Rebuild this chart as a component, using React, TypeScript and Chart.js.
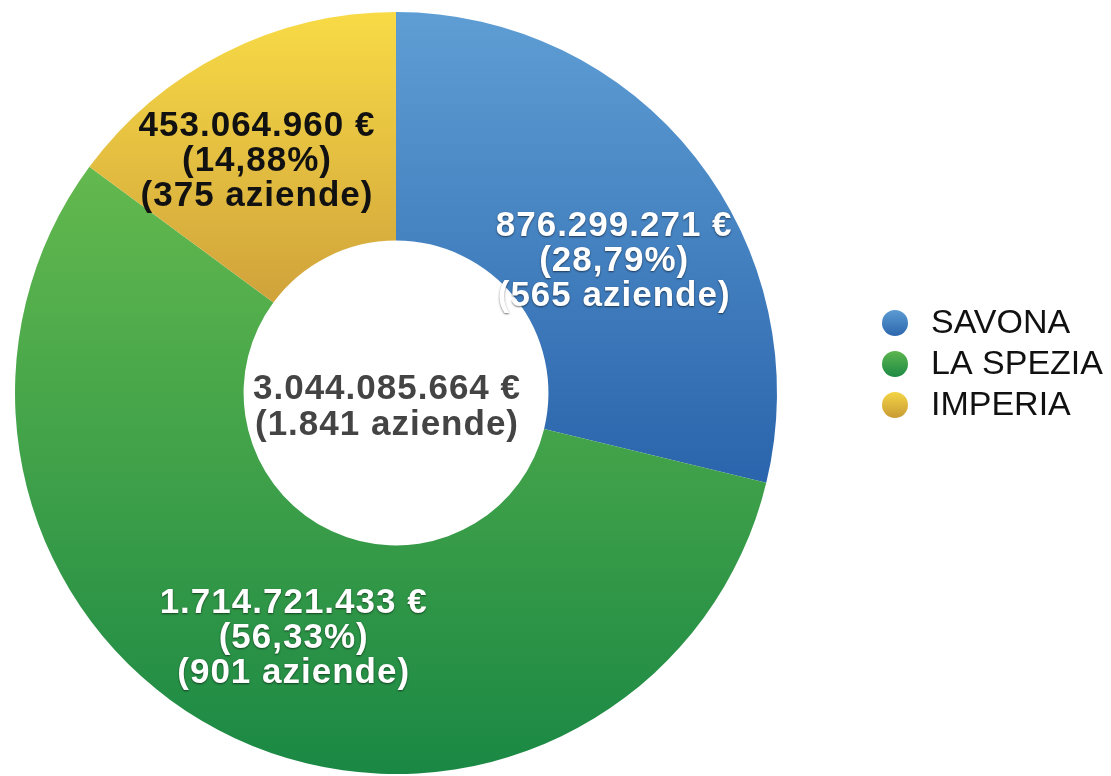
import React, { useEffect, useRef } from "react";
import { Chart, registerables } from "chart.js";

Chart.register(...registerables);

const provinces: string[] = ["SAVONA", "LA SPEZIA", "IMPERIA"];
const amounts: number[] = [876299271, 1714721433, 453064960];
const companies: number[] = [565, 901, 375];

// styling (not data)
const gradientStops: [number, string][][] = [
  [[0, "#5e9ed4"], [0.62, "#2a64ac"], [1, "#1f559f"]],
  [[0, "#72c250"], [0.2, "#64b94e"], [1, "#1a8844"]],
  [[0, "#f8db46"], [0.37, "#d1a43b"], [1, "#c0902f"]],
];
const legendDotStops: [string, string][] = [
  ["#5b9bd3", "#2d67ad"],
  ["#5cb54e", "#1d8a45"],
  ["#f3d445", "#c99b35"],
];
const labelColors: string[] = ["#ffffff", "#ffffff", "#111111"];
const labelShadow: boolean[] = [true, true, false];
const labelAngleShift: number[] = [7, -2.4, -4.2]; // degrees
const labelRadius: number[] = [255, 266, 270];

const FONT = '"Liberation Sans", Arial, Helvetica, sans-serif';

function fmtInt(n: number): string {
  const s = Math.round(n).toString();
  let out = "";
  for (let i = 0; i < s.length; i++) {
    if (i > 0 && (s.length - i) % 3 === 0) out += ".";
    out += s[i];
  }
  return out;
}

function fmtPct(p: number): string {
  return p.toFixed(2).replace(".", ",") + "%";
}

const labelsPlugin = {
  id: "sliceLabels",
  afterDatasetsDraw(chart: any) {
    const ctx: any = chart.ctx;
    const meta = chart.getDatasetMeta(0);
    const total = amounts.reduce((a, b) => a + b, 0);
    const totalCompanies = companies.reduce((a, b) => a + b, 0);
    ctx.save();
    ctx.textAlign = "center";
    ctx.textBaseline = "middle";
    ctx.font = `bold 35px ${FONT}`;
    ctx.letterSpacing = "1px";
    const lh = 35;
    let cx = 0, cy = 0;
    meta.data.forEach((arc: any, i: number) => {
      const p = arc.getProps(["x", "y", "startAngle", "endAngle"], true);
      cx = p.x; cy = p.y;
      const mid = (p.startAngle + p.endAngle) / 2 + (labelAngleShift[i] * Math.PI) / 180;
      const lx = p.x + Math.cos(mid) * labelRadius[i];
      const ly = p.y + Math.sin(mid) * labelRadius[i];
      const lines = [
        `${fmtInt(amounts[i])} €`,
        `(${fmtPct((amounts[i] / total) * 100)})`,
        `(${companies[i]} aziende)`,
      ];
      ctx.fillStyle = labelColors[i];
      if (labelShadow[i]) {
        ctx.shadowColor = "rgba(0,0,0,0.55)";
        ctx.shadowBlur = 2;
        ctx.shadowOffsetX = 0;
        ctx.shadowOffsetY = 1;
      } else {
        ctx.shadowColor = "transparent";
        ctx.shadowBlur = 0;
        ctx.shadowOffsetY = 0;
      }
      lines.forEach((t, k) => {
        ctx.fillText(t, lx, ly + (k - 1) * lh);
      });
    });
    ctx.shadowColor = "transparent";
    ctx.shadowBlur = 0;
    ctx.shadowOffsetY = 0;
    ctx.fillStyle = "#444444";
    ctx.fillText(`${fmtInt(total)} €`, cx - 9, cy - 4);
    ctx.fillText(`(${fmtInt(totalCompanies)} aziende)`, cx - 9, cy + 32);

    // legend
    const area = chart.chartArea;
    const lxDot = area.right + 118;
    const ly0 = 323;
    ctx.font = `34px ${FONT}`;
    ctx.letterSpacing = "0px";
    ctx.textAlign = "left";
    provinces.forEach((name, i) => {
      const y = ly0 + i * 41;
      ctx.beginPath();
      ctx.arc(lxDot, y, 13, 0, Math.PI * 2);
      const g = ctx.createLinearGradient(0, y - 13, 0, y + 13);
      g.addColorStop(0, legendDotStops[i][0]);
      g.addColorStop(1, legendDotStops[i][1]);
      ctx.fillStyle = g;
      ctx.fill();
      ctx.fillStyle = "#111111";
      ctx.fillText(name, lxDot + 36, y + 1);
    });
    ctx.restore();
  },
};

export default function App() {
  const ref = useRef<HTMLCanvasElement | null>(null);
  useEffect(() => {
    if (!ref.current) return;
    const chart = new Chart(ref.current, {
      type: "doughnut",
      data: {
        labels: provinces,
        datasets: [
          {
            data: amounts,
            borderWidth: 0,
            hoverOffset: 0,
            backgroundColor: (c: any) => {
              const chart = c.chart;
              const area = chart.chartArea;
              if (!area) return "#888";
              const stops = gradientStops[c.dataIndex % gradientStops.length];
              const g = chart.ctx.createLinearGradient(0, area.top, 0, area.bottom);
              stops.forEach(([o, col]) => g.addColorStop(o, col));
              return g;
            },
          },
        ],
      },
      options: {
        responsive: false,
        animation: false,
        events: [],
        cutout: "40%",
        layout: { padding: { left: 15, right: 334, top: 12, bottom: 2 } },
        plugins: {
          legend: { display: false },
          tooltip: { enabled: false },
        },
      },
      plugins: [labelsPlugin],
    } as any);
    return () => chart.destroy();
  }, []);
  return (
    <div style={{ position: "fixed", left: 0, top: 0, width: 1111, height: 776, background: "#fff" }}>
      <canvas ref={ref} width={1111} height={776} style={{ display: "block" }} />
    </div>
  );
}
